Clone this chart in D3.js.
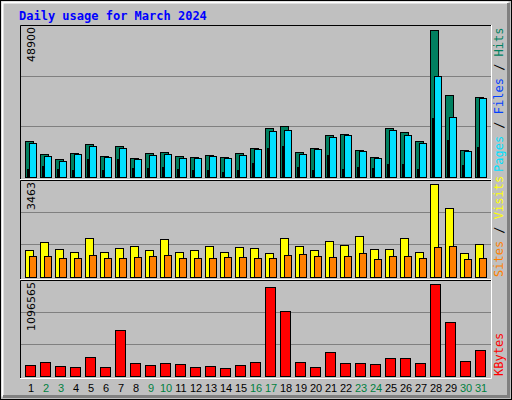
<!DOCTYPE html>
<html><head><meta charset="utf-8">
<script src="https://cdn.jsdelivr.net/npm/d3@7"></script>
<style>body{margin:0;background:#fff}</style></head>
<body><svg id="c" width="512" height="400"></svg>
<script>
const days = d3.range(1,32);
const weekend = [2,3,9,10,16,17,23,24,30,31];
const hits = [11470,7504,5896,7826,10720,6861,9862,6218,7826,8147,6861,6539,7182,6539,7826,9434,15651,16509,8147,9434,13614,13936,8790,6539,15866,14579,11685,47382,26478,8790,25835];
const files = [11042,6861,5253,7504,10077,6539,9434,5896,7182,7504,6218,6218,6861,6218,7182,9112,14901,15222,7504,9112,12971,13614,8469,6218,15222,13614,11042,32589,19403,8469,25514];
const pages = [2680,3645,2680,2358,5896,2358,5896,3002,3002,3323,2680,2358,2358,1715,2358,4610,9434,10077,3323,2358,7182,2680,3323,3002,4288,4288,2680,19082,12006,3966,9755];
const visits = [943,1230,979,872,1373,872,1015,1087,943,1337,872,943,1087,872,1051,1015,836,1373,1087,943,1266,1122,1445,979,979,1373,872,3307,2448,836,1158];
const sites = [728,728,657,657,764,657,657,693,728,764,657,657,657,693,693,657,657,764,800,728,693,728,836,621,728,728,657,1051,1087,621,657];
const kbytes = [118451,152840,106988,95525,210155,95525,519656,141377,118451,141377,129914,95525,106988,84062,118451,152840,1012565,737453,152840,95525,267470,141377,141377,129914,198692,198692,141377,1046954,611360,164303,290396];
const maxLabels = ["48900","3463","1096565"];
const maxVals = [48900,3463,1096565];

const svg = d3.select("#c");
svg.append("rect").attr("width",512).attr("height",400).attr("fill","#c0c0c0");
svg.append("rect").attr("x",0.5).attr("y",0.5).attr("width",511).attr("height",399).attr("fill","none").attr("stroke","#000");
svg.append("path").attr("d","M2.5,396.5V2.5H508.5").attr("stroke","#fff").attr("fill","none").attr("stroke-width",2);
svg.append("path").attr("d","M508.5,3V396.5H3").attr("stroke","#808080").attr("fill","none").attr("stroke-width",3);

svg.append("text").attr("x",19).attr("y",20).text("Daily usage for March 2024")
 .attr("font-family","DejaVu Sans Mono").attr("font-weight","bold").attr("font-size",12).attr("fill","#0000ff");

const x = d3.scaleLinear().domain([1,31]).range([25,475]);
const X0=20, X1=491;
const panels = [{t:25,b:179,base:177},{t:180,b:279,base:276.7},{t:280,b:378,base:375.7}];
const ys = panels.map((p,i)=>d3.scaleLinear().domain([0,maxVals[i]]).range([p.base,p.t]));

panels.forEach((p,i)=>{
  [1/3,2/3].forEach(f=>{
    const yy = Math.round(ys[i](maxVals[i]*f))+0.5;
    svg.append("line").attr("x1",X0).attr("x2",X1).attr("y1",yy).attr("y2",yy).attr("stroke","#808080");
  });
  svg.append("path").attr("d",`M${X0+0.5},${p.b}V${p.t+0.5}H${X1}`).attr("stroke","#000").attr("fill","none");
  svg.append("path").attr("d",`M${X0},${p.b+0.5}H${X1+0.5}V${p.t}`).attr("stroke","#fff").attr("fill","none");
  svg.append("text").attr("transform",`translate(35,${p.t+2}) rotate(-90)`).attr("text-anchor","end")
    .attr("font-family","DejaVu Sans").attr("font-size",11).text(maxLabels[i]);
});

function bars(data, yS, base, dx, w, color){
  svg.append("g").selectAll("rect").data(data).join("rect")
   .attr("x",(d,i)=>x(days[i])+dx+0.5).attr("y",d=>Math.round(yS(d))+0.5)
   .attr("width",w).attr("height",d=>Math.max(0,Math.round(base)-Math.round(yS(d))))
   .attr("fill",color).attr("stroke","#000");
}
bars(hits, ys[0], panels[0].base, 0, 8, "#008060");
bars(files, ys[0], panels[0].base, 4, 7, "#00e0ff");
bars(pages, ys[0], panels[0].base, 2, 1, "#0040ff");
bars(visits, ys[1], panels[1].base, 0, 8, "#ffff00");
bars(sites, ys[1], panels[1].base, 4, 7, "#ff8000");
bars(kbytes, ys[2], panels[2].base, 0, 10, "#ff0000");

svg.append("g").selectAll("text").data(days).join("text")
 .attr("x",d=>x(d)+6).attr("y",392).attr("text-anchor","middle")
 .attr("font-family","Liberation Sans").attr("font-size",11)
 .attr("fill",d=>weekend.includes(d)?"#008040":"#000").text(d=>d);

function sideLabel(y, parts){
  const t = svg.append("text").attr("transform",`translate(503,${y}) rotate(-90)`)
   .attr("font-family","DejaVu Sans Mono").attr("font-size",12);
  parts.forEach(([s,c])=>t.append("tspan").attr("fill",c).text(s));
}
sideLabel(172,[["Pages","#00e0ff"],["/","#000"],["Files","#0040ff"],["/","#000"],["Hits","#008060"]].map(([s,c])=>[s==="/"?" / ":s,c]));
sideLabel(277,[["Sites","#ff8000"],[" / ","#000"],["Visits","#ffff00"]]);
sideLabel(376,[["KBytes","#ff0000"]]);
</script></body></html>
